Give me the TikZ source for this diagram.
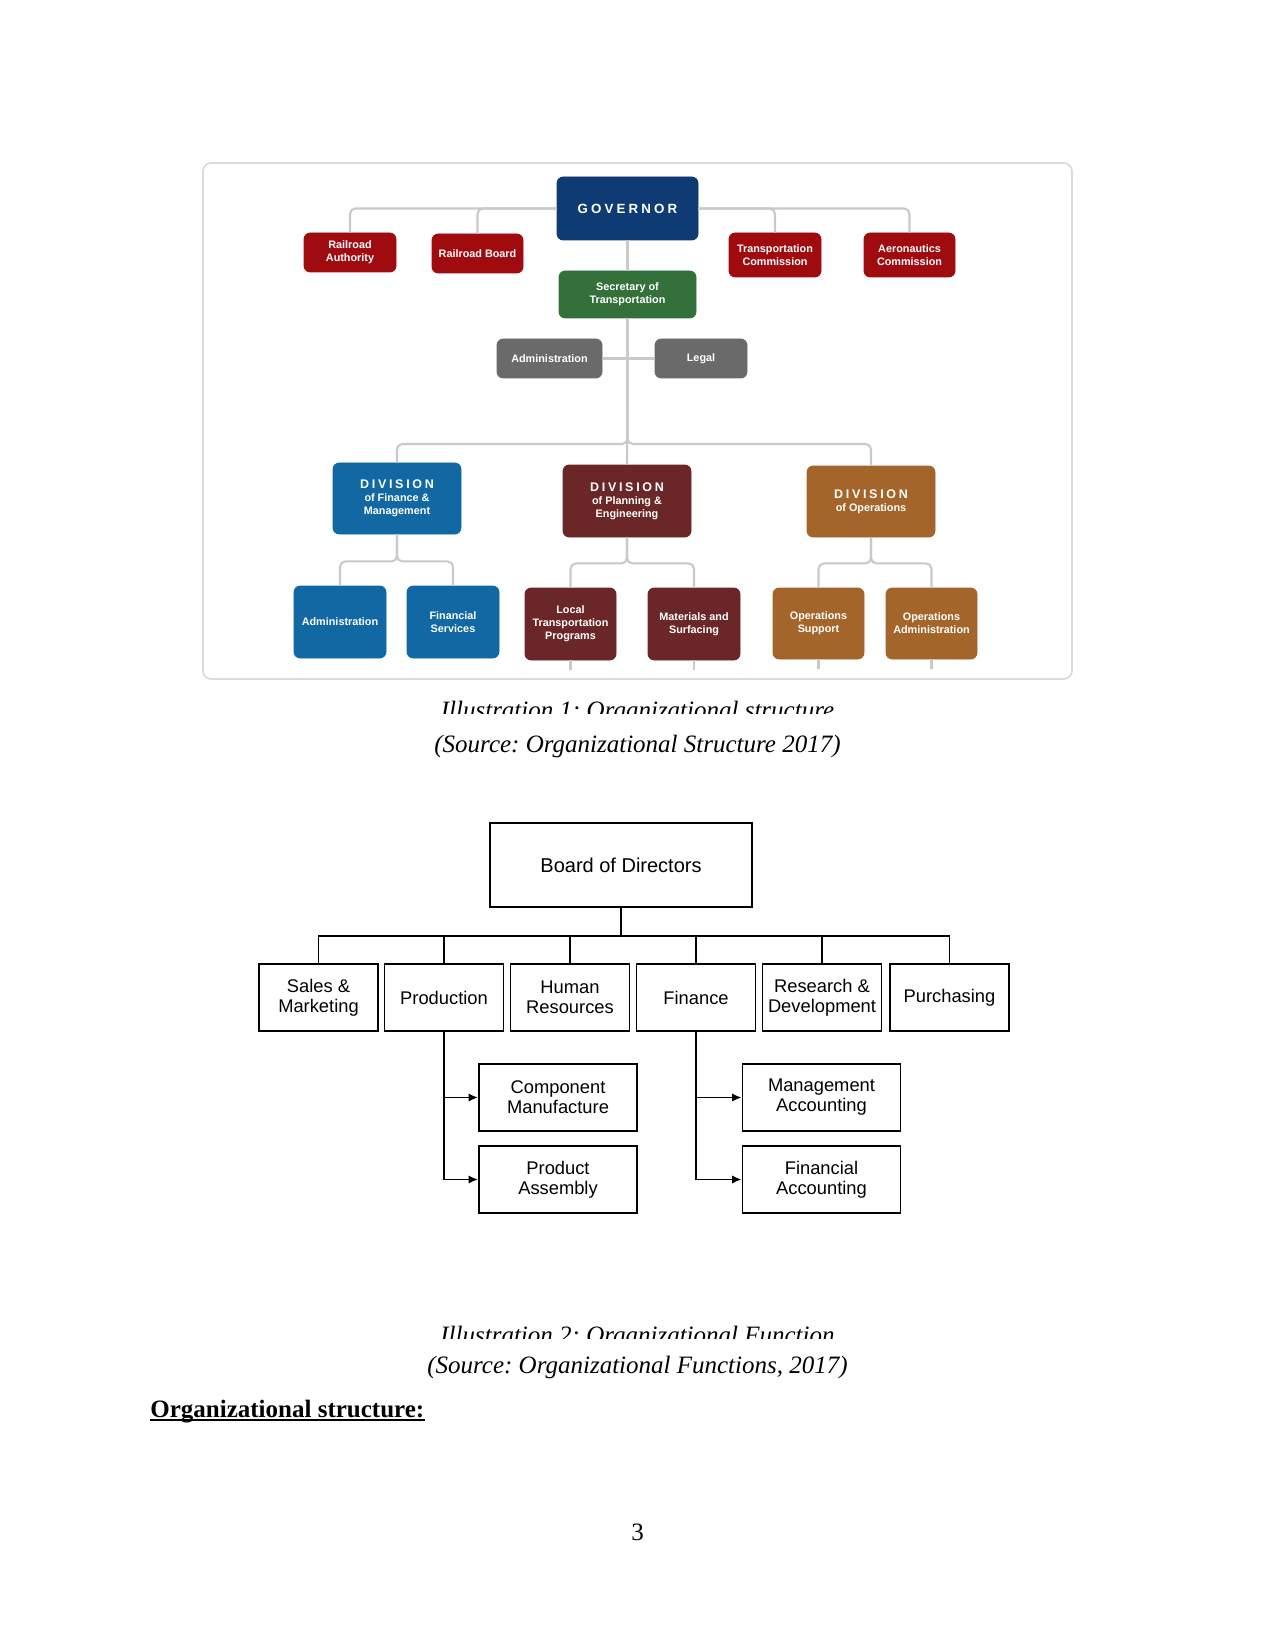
\documentclass[tikz,border=0pt]{standalone}
\usepackage{fontspec}
\setmainfont{Liberation Serif}
\newfontfamily\arial{Liberation Sans}
\usetikzlibrary{arrows.meta}
\frenchspacing
\definecolor{govc}{HTML}{0E3B73}
\definecolor{redc}{HTML}{A00B10}
\definecolor{grnc}{HTML}{33703A}
\definecolor{gryc}{HTML}{6A6A6A}
\definecolor{bluc}{HTML}{1168A3}
\definecolor{marc}{HTML}{6B2628}
\definecolor{brnc}{HTML}{A3652A}
\definecolor{linec}{HTML}{C9C9C9}
\definecolor{framec}{HTML}{DADADA}
\newcommand\tcfont{\arial\bfseries\fontsize{5.2}{6.2}\selectfont}
\newcommand\divfont{\arial\bfseries\fontsize{6}{6.7}\selectfont}
\newcommand\ocfont{\arial\fontsize{8.8}{9.6}\selectfont}
\newcommand\divword{D\kern1.3pt I\kern1.3pt V\kern1.3pt I\kern1.3pt S\kern1.3pt I\kern1.3pt O\kern1.3pt N}
\newcommand\bx[7]{\node[#6, minimum width=#4*0.48pt, minimum height=#5*0.48pt] (#1) at (#2,#3) {#7};}
\tikzset{
  cbox/.style={fill=#1, draw=#1, rounded corners=3pt, text=white, align=center, inner sep=0pt, font=\tcfont},
  conn/.style={draw=linec, line width=1pt, rounded corners=2.6pt},
  obox/.style={draw=black, line width=0.9pt, fill=white, align=center, inner sep=0pt, font=\ocfont},
  bk/.style={draw=black, line width=0.9pt},
  arr/.style={bk, -{Latex[length=4.5pt,width=4pt]}},
  capt/.style={anchor=base, inner sep=0pt, font=\itshape\fontsize{12}{14}\selectfont}
}
\begin{document}
\begin{tikzpicture}[x=0.48pt,y=-0.48pt]
\useasboundingbox (0,0) rectangle (1275,1650);
\fill[white] (0,0) rectangle (1275,1650);
% ---------- chart 1 frame
\draw[framec, line width=0.8pt, rounded corners=4pt] (203,163) rectangle (1072,679);
% ---------- chart 1 boxes
\bx{gov}{627.5}{208.5}{141}{63}{cbox=govc}{\arial\bfseries\fontsize{6.4}{7}\selectfont G\kern1.5pt O\kern1.5pt V\kern1.5pt E\kern1.5pt R\kern1.5pt N\kern1.5pt O\kern1.5pt R}
\bx{ra}{350}{252.5}{92}{39}{cbox=redc}{Railroad\\Authority}
\bx{rb}{477.5}{253.5}{91}{39}{cbox=redc}{Railroad Board}
\bx{tc}{775}{255}{92}{44}{cbox=redc}{Transportation\\Commission}
\bx{ac}{909.5}{255}{91}{44}{cbox=redc}{Aeronautics\\Commission}
\bx{sec}{627.5}{294.5}{137}{47}{cbox=grnc}{Secretary of\\Transportation}
\bx{adm}{549.5}{358.5}{105}{39}{cbox=gryc}{Administration}
\bx{leg}{701}{358.5}{92}{39}{cbox=gryc}{Legal}
\bx{divF}{397}{498.5}{128}{71}{cbox=bluc}{{\divfont\divword}\\of Finance \&\\Management}
\bx{divP}{627}{501}{128}{72}{cbox=marc}{{\divfont\divword}\\of Planning \&\\Engineering}
\bx{divO}{871}{501.5}{128}{71}{cbox=brnc}{{\divfont\divword}\\of Operations}
\bx{fa}{340}{622}{92}{72}{cbox=bluc}{Administration}
\bx{fs}{453}{622}{92}{72}{cbox=bluc}{Financial\\Services}
\bx{lt}{570.5}{624}{91}{72}{cbox=marc}{Local\\Transportation\\Programs}
\bx{ms}{694}{624}{92}{72}{cbox=marc}{Materials and\\Surfacing}
\bx{os}{818.5}{623.5}{91}{71}{cbox=brnc}{Operations\\Support}
\bx{oa}{931.5}{623.5}{91}{71}{cbox=brnc}{Operations\\Administration}
% ---------- chart 1 connectors
\draw[conn] (gov.west) -| (ra.north);
\draw[conn] (gov.west) -| (rb.north);
\draw[conn] (gov.east) -| (ac.north);
\draw[conn] (gov.east) -| (tc.north);
\draw[conn] (gov.south) -- (sec.north);
\draw[conn] (adm.east) -- (leg.west);
\coordinate (fk) at (627.5,444);
\draw[conn] (sec.south) -- (fk) -| (divF.north);
\draw[conn] (sec.south) -- (fk) -| (divO.north);
\draw[conn] (sec.south) -- (divP.north);
\draw[conn] (divF.south) -- ++(0,27) -| (fa.north);
\draw[conn] (divF.south) -- ++(0,27) -| (fs.north);
\draw[conn] (divP.south) -- ++(0,26) -| (lt.north);
\draw[conn] (divP.south) -- ++(0,26) -| (ms.north);
\draw[conn] (divO.south) -- ++(0,26) -| (os.north);
\draw[conn] (divO.south) -- ++(0,26) -| (oa.north);
\draw[conn] (lt.south) -- ++(0,10);
\draw[conn] (ms.south) -- ++(0,10);
\draw[conn] (os.south) -- ++(0,10);
\draw[conn] (oa.south) -- ++(0,10);
% ---------- caption 1
\begin{scope}
\clip (0,0) rectangle (1275,713);
\node[capt] (cap1) at (637.5,718.5) {Illustration 1: Organizational structure};
\end{scope}
\node[capt] (src1) at (637.5,752) {(Source: Organizational Structure 2017)};
% ---------- chart 2
\bx{bod}{621}{865}{262}{84}{obox}{\arial\fontsize{9.6}{10}\selectfont Board of Directors}
\bx{sm}{318.5}{997.5}{119}{67}{obox}{Sales \&\\Marketing}
\bx{pr}{444}{997.5}{119}{67}{obox}{Production}
\bx{hr}{570}{997.5}{119}{67}{obox}{Human\\Resources}
\bx{fi}{696}{997.5}{119}{67}{obox}{Finance}
\bx{rd}{822}{997.5}{119}{67}{obox}{Research \&\\Development}
\bx{pu}{949.5}{997.5}{119}{67}{obox}{Purchasing}
\bx{cm}{558}{1097.5}{158}{67}{obox}{Component\\Manufacture}
\bx{pa}{558}{1179.5}{158}{67}{obox}{Product\\Assembly}
\bx{ma}{821.5}{1097.5}{158}{67}{obox}{Management\\Accounting}
\bx{fac}{821.5}{1179.5}{158}{67}{obox}{Financial\\Accounting}
\coordinate (hl) at (621,936);
\draw[bk] (bod.south) -- (hl);
\draw[bk] (sm.north) |- (hl) -| (pu.north);
\draw[bk] (pr.north) -- (pr.north |- hl);
\draw[bk] (hr.north) -- (hr.north |- hl);
\draw[bk] (fi.north) -- (fi.north |- hl);
\draw[bk] (rd.north) -- (rd.north |- hl);
\draw[arr] (pr.south) |- (pa.west);
\draw[arr] (pr.south |- cm.west) -- (cm.west);
\draw[arr] (fi.south) |- (fac.west);
\draw[arr] (fi.south |- ma.west) -- (ma.west);
% ---------- caption 2
\begin{scope}
\clip (0,0) rectangle (1275,1338);
\node[capt] (cap2) at (637.5,1343.5) {Illustration 2: Organizational Function};
\end{scope}
\node[capt] (src2) at (637.5,1373) {(Source: Organizational Functions, 2017)};
\node[anchor=base west, inner sep=0pt, font=\bfseries\fontsize{12}{14}\selectfont] (head) at (150,1417) {Organizational structure:};
\draw[line width=0.6pt] ([yshift=-1.4pt]head.base west) -- ([yshift=-1.4pt]head.base east);
\node[anchor=base, inner sep=0pt, font=\fontsize{12}{14}\selectfont] (pg) at (637.5,1540) {3};
\end{tikzpicture}
\end{document}
